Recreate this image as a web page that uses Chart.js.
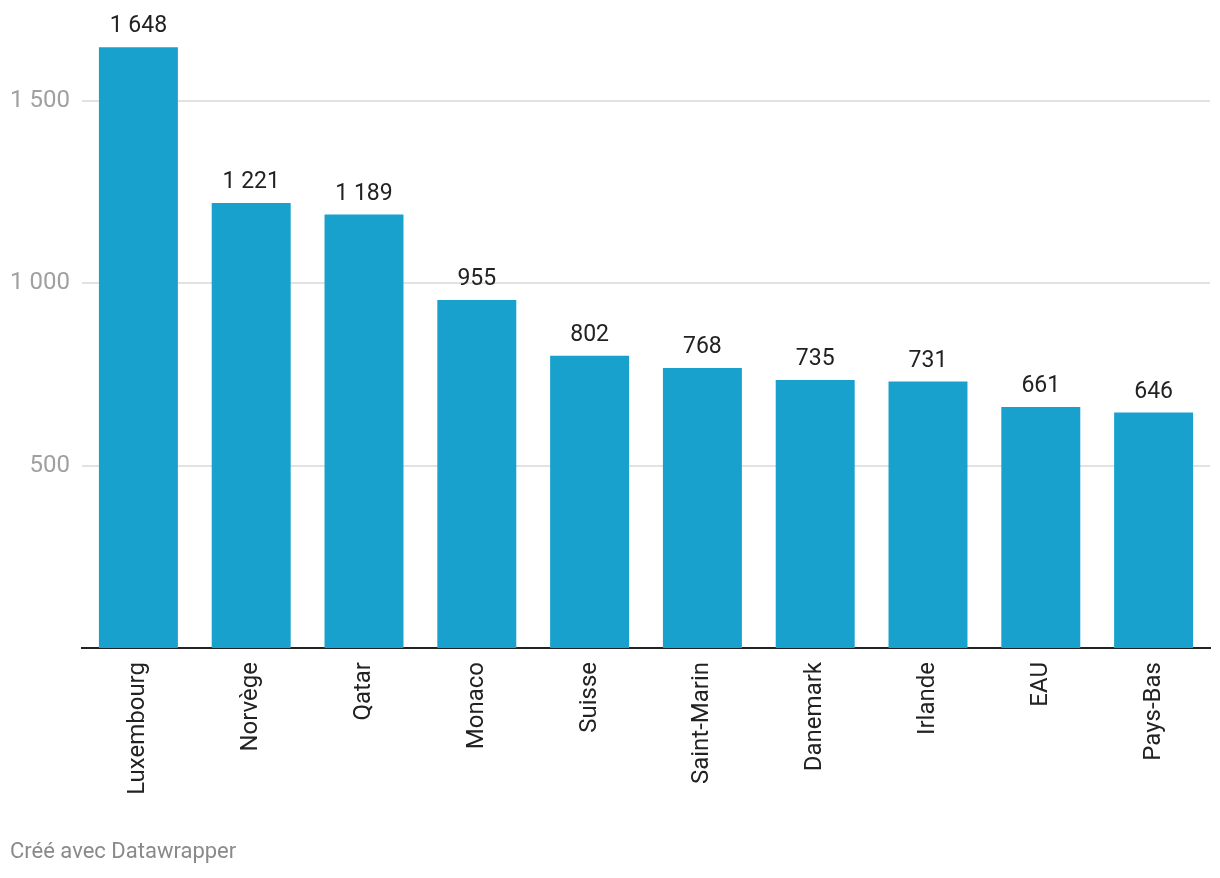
<!DOCTYPE html>
<html>
<head>
<meta charset="utf-8">
<script src="https://cdn.jsdelivr.net/npm/chart.js@4"></script>
<style>
  body { margin: 0; background: #fff; }
  #wrap { position: relative; width: 1220px; height: 878px; }
  #footer { position: absolute; left: 10px; top: 838px; font: 22px Roboto, sans-serif; color: #8a8a8a; }
</style>
</head>
<body>
<div id="wrap">
  <canvas id="chart" width="1220" height="878"></canvas>
  <div id="footer">Créé avec Datawrapper</div>
</div>
<script>
// données
const pays = ['Luxembourg', 'Norvège', 'Qatar', 'Monaco', 'Suisse', 'Saint-Marin', 'Danemark', 'Irlande', 'EAU', 'Pays-Bas'];
const valeurs = [1648, 1221, 1189, 955, 802, 768, 735, 731, 661, 646];
const ticksY = [500, 1000, 1500];

// format "1 648"
function fmt(v) {
    return String(v).replace(/\B(?=(\d{3})+(?!\d))/g, ' ');
}

// étiquettes au-dessus des barres
const valueLabels = {
    id: 'valueLabels',
    afterDatasetsDraw(chart) {
        const ctx = chart.ctx;
        const meta = chart.getDatasetMeta(0);
        ctx.save();
        ctx.font = '23px Roboto';
        ctx.fillStyle = '#222';
        ctx.textAlign = 'center';
        ctx.textBaseline = 'alphabetic';
        meta.data.forEach((bar, i) => {
            ctx.fillText(fmt(valeurs[i]), bar.x, bar.y - 15);
        });
        ctx.restore();
    }
};

const ctx = document.getElementById('chart').getContext('2d');
new Chart(ctx, {
    type: 'bar',
    data: {
        labels: pays,
        datasets: [{
            data: valeurs,
            backgroundColor: '#18a1cd',
            barPercentage: 0.7,
            categoryPercentage: 1
        }]
    },
    options: {
        responsive: false,
        animation: false,
        layout: { padding: { top: 40, right: 10, left: 0, bottom: 0 } },
        plugins: { legend: { display: false }, tooltip: { enabled: false } },
        scales: {
            x: {
                grid: { display: false, drawTicks: false },
                border: { color: '#222', width: 2 },
                ticks: {
                    minRotation: 90, maxRotation: 90, padding: 14,
                    color: '#222', font: { family: 'Roboto', size: 24 }
                },
                afterFit(scale) { scale.height = 230; }
            },
            y: {
                min: 0,
                max: 1668,
                border: { display: false },
                grid: { color: '#e2e2e2', lineWidth: 2, drawTicks: false },
                afterBuildTicks(scale) {
                    scale.ticks = ticksY.map(v => ({ value: v }));
                },
                ticks: {
                    padding: 12,
                    color: '#a0a0a0',
                    font: { family: 'Roboto', size: 24 },
                    callback: v => fmt(v)
                },
                afterFit(scale) { scale.width = 82; }
            }
        }
    },
    plugins: [valueLabels]
});
</script>
</body>
</html>
